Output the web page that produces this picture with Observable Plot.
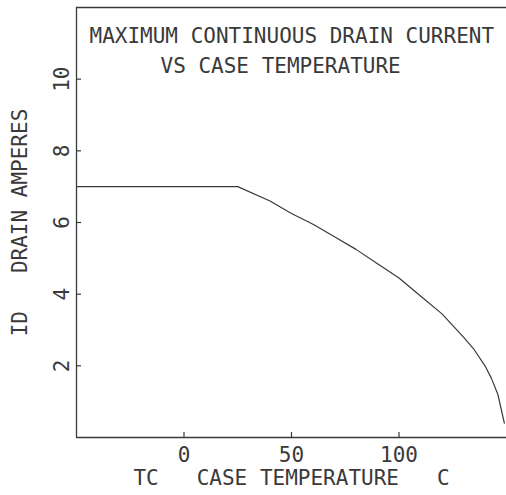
<!DOCTYPE html>
<html><head><meta charset="utf-8">
<script src="https://cdn.jsdelivr.net/npm/d3@7"></script>
<script src="https://cdn.jsdelivr.net/npm/@observablehq/plot@0.6"></script>
<style>body{margin:0;background:#fff}</style>
</head><body><div id="chart"></div>
<script>
const caseTemp = [-50, 25, 40, 50, 60, 70, 80, 90, 100, 110, 120, 130, 135, 140, 143, 146, 149];
const drainCurrent = [7, 7, 6.6, 6.25, 5.95, 5.6, 5.25, 4.85, 4.45, 3.95, 3.45, 2.8, 2.45, 2.0, 1.65, 1.2, 0.4];
const xTicks = [0, 50, 100];
const yTicks = [2, 4, 6, 8, 10];
const titleLine1 = "MAXIMUM CONTINUOUS DRAIN CURRENT";
const titleLine2 = "VS CASE TEMPERATURE";
const xLabel = "TC   CASE TEMPERATURE   C";
const yLabel = "ID   DRAIN AMPERES";

const data = caseTemp.map((t, i) => ({t, id: drainCurrent[i]}));
const ink = "#3a3a3a";
const font = "DejaVu Sans Mono";

const chart = Plot.plot({
  width: 506, height: 495,
  marginLeft: 76, marginRight: 0, marginTop: 7, marginBottom: 58,
  style: {fontFamily: font, fontSize: "21px", color: ink, background: "#fff", overflow: "visible"},
  x: {domain: [-50, 150]},
  y: {domain: [0, 12]},
  marks: [
    Plot.axisX({ticks: xTicks, tickSize: -5, tickPadding: 15, stroke: ink, strokeWidth: 1.2,
      fill: ink, fontSize: 21, label: xLabel, labelAnchor: "center", labelArrow: "none", labelOffset: 47}),
    Plot.axisY({ticks: yTicks, tickSize: -5, tickPadding: 13, tickRotate: -90, stroke: ink, strokeWidth: 1.2,
      fill: ink, fontSize: 21, label: yLabel, labelAnchor: "center", labelArrow: "none", labelOffset: 64}),
    Plot.ruleY([0, 12], {stroke: ink, strokeWidth: 1.3}),
    Plot.ruleX([-50], {stroke: ink, strokeWidth: 1.3}),
    Plot.line(data, {x: "t", y: "id", stroke: ink, strokeWidth: 1.2}),
    Plot.text([titleLine1], {text: d => d, frameAnchor: "top-left", textAnchor: "start", lineAnchor: "top",
      dx: 13, dy: 21, fill: ink, fontSize: 21}),
    Plot.text([titleLine2], {text: d => d, frameAnchor: "top-left", textAnchor: "start", lineAnchor: "top",
      dx: 84, dy: 51, fill: ink, fontSize: 21})
  ]
});
document.getElementById("chart").append(chart);
</script>
</body></html>
